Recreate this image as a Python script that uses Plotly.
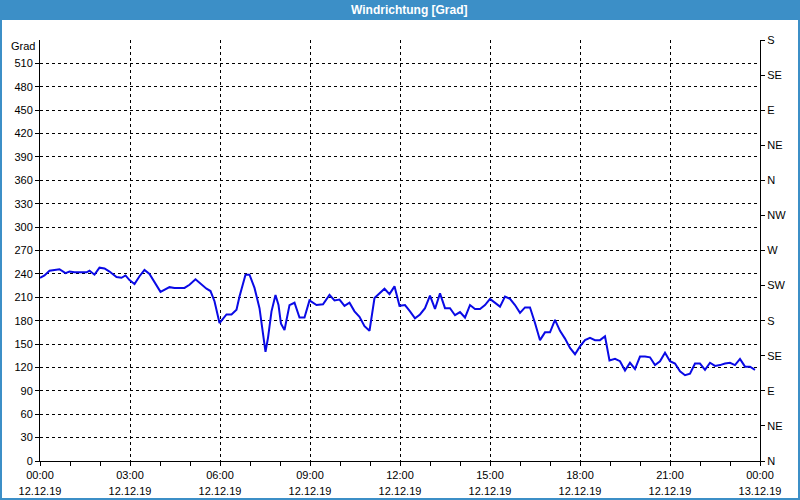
import plotly.graph_objects as go

# ---- data ----
times = [
    "00:00", "00:09", "00:19", "00:39", "00:51", "00:59", "01:09", "01:33", "01:39", "01:49",
    "01:59", "02:09", "02:19", "02:33", "02:43", "02:51", "02:59", "03:09", "03:19", "03:29",
    "03:39", "03:51", "04:01", "04:19", "04:29", "04:49", "04:59", "05:11", "05:23", "05:33",
    "05:41", "05:49", "05:59", "06:06", "06:13", "06:23", "06:33", "06:39", "06:51", "06:59",
    "07:09", "07:19", "07:26", "07:31", "07:36", "07:43", "07:51", "07:57", "08:02", "08:09",
    "08:19", "08:29", "08:39", "08:49", "08:59", "09:13", "09:26", "09:39", "09:49", "09:59",
    "10:09", "10:19", "10:29", "10:39", "10:49", "10:59", "11:09", "11:19", "11:29", "11:39",
    "11:49", "11:59", "12:10", "12:20", "12:30", "12:40", "12:50", "13:00", "13:10", "13:20",
    "13:30", "13:40", "13:50", "14:00", "14:10", "14:20", "14:30", "14:40", "14:50", "15:00",
    "15:10", "15:20", "15:30", "15:40", "15:50", "16:00", "16:10", "16:20", "16:30", "16:40",
    "16:50", "17:00", "17:10", "17:20", "17:30", "17:40", "17:50", "18:00", "18:10", "18:20",
    "18:30", "18:40", "18:50", "18:59", "19:10", "19:20", "19:30", "19:40", "19:50", "20:00",
    "20:10", "20:20", "20:30", "20:40", "20:50", "21:00", "21:10", "21:20", "21:30", "21:40",
    "21:50", "22:00", "22:10", "22:20", "22:30", "22:40", "22:50", "23:00", "23:10", "23:20",
    "23:30", "23:40", "23:50",
]
direction = [
    235, 238, 244, 246, 241, 243, 242, 242, 244, 239,
    248, 247, 243, 236, 235, 238, 232, 227, 237, 245,
    240, 227, 217, 223, 222, 222, 226, 233, 226, 221,
    218, 205, 177, 183, 188, 188, 194, 211, 239, 239,
    222, 196, 166, 140, 158, 192, 213, 200, 176, 168,
    200, 203, 184, 184, 206, 200, 201, 213, 206, 207,
    199, 203, 192, 185, 173, 167, 209, 215, 221, 214,
    224, 199, 200, 192, 183, 188, 196, 212, 195, 215,
    196, 196, 187, 191, 184, 200, 195, 195, 200, 208,
    203, 198, 211, 208, 200, 190, 197, 197, 177, 155,
    165, 165, 181, 167, 157, 145, 137, 147, 155, 158,
    155, 155, 160, 129, 131, 128, 116, 126, 118, 134,
    134, 133, 123, 128, 139, 128, 125, 115, 110, 112,
    125, 125, 117, 126, 122, 123, 125, 126, 123, 131,
    121, 121, 117,
]
day = "2019-12-12"
x_tick_vals = ["2019-12-12 00:00", "2019-12-12 03:00", "2019-12-12 06:00", "2019-12-12 09:00",
               "2019-12-12 12:00", "2019-12-12 15:00", "2019-12-12 18:00", "2019-12-12 21:00",
               "2019-12-13 00:00"]
x_tick_time = ["00:00", "03:00", "06:00", "09:00", "12:00", "15:00", "18:00", "21:00", "00:00"]
x_tick_date = ["12.12.19", "12.12.19", "12.12.19", "12.12.19", "12.12.19",
               "12.12.19", "12.12.19", "12.12.19", "13.12.19"]
y_left_ticks = list(range(0, 511, 30))
y_right_ticks = list(range(0, 541, 45))
y_right_text = ["N", "NE", "E", "SE", "S", "SW", "W", "NW", "N", "NE", "E", "SE", "S"]

x_vals = [f"{day} {t}" for t in times]

FONT = "Liberation Sans"
W, H = 800, 500
L, R, T, B = 40, 40, 40, 39
PW, PH = W - L - R, H - T - B


def px(xp):
    return (xp - L) / PW


def py(yp):
    return (H - B - yp) / PH


fig = go.Figure()
fig.add_trace(go.Scatter(
    x=x_vals, y=direction, mode="lines",
    line=dict(color="#0a0ae6", width=2), showlegend=False, hoverinfo="skip",
))
# empty trace so the secondary axes (right compass axis, date row) get drawn
fig.add_trace(go.Scatter(x=[], y=[], xaxis="x2", yaxis="y2", showlegend=False, hoverinfo="skip"))

axis_common = dict(
    showline=True, linecolor="black", linewidth=1,
    ticks="outside", ticklen=4, tickcolor="black", tickwidth=1,
    tickfont=dict(family=FONT, size=11, color="black"),
    zeroline=False, automargin=False,
)

fig.update_layout(
    width=W, height=H,
    margin=dict(l=L, r=R, t=T, b=B),
    paper_bgcolor="white", plot_bgcolor="white",
    xaxis=dict(
        type="date",
        range=["2019-12-12 00:00", "2019-12-13 00:00"],
        tickmode="array", tickvals=x_tick_vals, ticktext=x_tick_time,
        showgrid=True, gridcolor="black", gridwidth=1, griddash="3px,3px",
        minor=dict(dtick=3600000, ticks="outside", ticklen=4, tickcolor="black", showgrid=False),
        **axis_common,
    ),
    xaxis2=dict(
        type="date", overlaying="x", side="bottom", anchor="y",
        range=["2019-12-12 00:00", "2019-12-13 00:00"],
        tickmode="array", tickvals=x_tick_vals, ticktext=x_tick_date,
        showgrid=False, showline=False, ticks="", zeroline=False, automargin=False,
        ticklabelstandoff=22,
        tickfont=dict(family=FONT, size=11, color="black"),
    ),
    yaxis=dict(
        range=[0, 540], tickmode="array", tickvals=y_left_ticks,
        showgrid=True, gridcolor="black", gridwidth=1, griddash="3px,3px",
        **axis_common,
    ),
    yaxis2=dict(
        overlaying="y", side="right", anchor="x", range=[0, 540],
        tickmode="array", tickvals=y_right_ticks, ticktext=y_right_text,
        showgrid=False,
        **axis_common,
    ),
    shapes=[
        dict(type="rect", xref="paper", yref="paper",
             x0=px(0), x1=px(W), y0=py(20), y1=py(0),
             fillcolor="#3c8fc7", line=dict(width=0), layer="above"),
        dict(type="line", xref="paper", yref="paper",
             x0=px(1), x1=px(1), y0=py(0), y1=py(H), line=dict(color="#3c8fc7", width=2)),
        dict(type="line", xref="paper", yref="paper",
             x0=px(W - 1), x1=px(W - 1), y0=py(0), y1=py(H), line=dict(color="#3c8fc7", width=2)),
        dict(type="line", xref="paper", yref="paper",
             x0=px(0), x1=px(W), y0=py(H - 1), y1=py(H - 1), line=dict(color="#3c8fc7", width=2)),
    ],
    annotations=[
        dict(text="<b>Windrichtung [Grad]</b>", xref="paper", yref="paper",
             x=px(410), y=py(10), xanchor="center", yanchor="middle", showarrow=False,
             font=dict(family=FONT, size=12, color="white")),
        dict(text="Grad", xref="paper", yref="paper",
             x=px(37), y=py(46), xanchor="right", yanchor="middle", showarrow=False,
             font=dict(family=FONT, size=11, color="black")),
    ],
)

fig.write_html("out.html")
